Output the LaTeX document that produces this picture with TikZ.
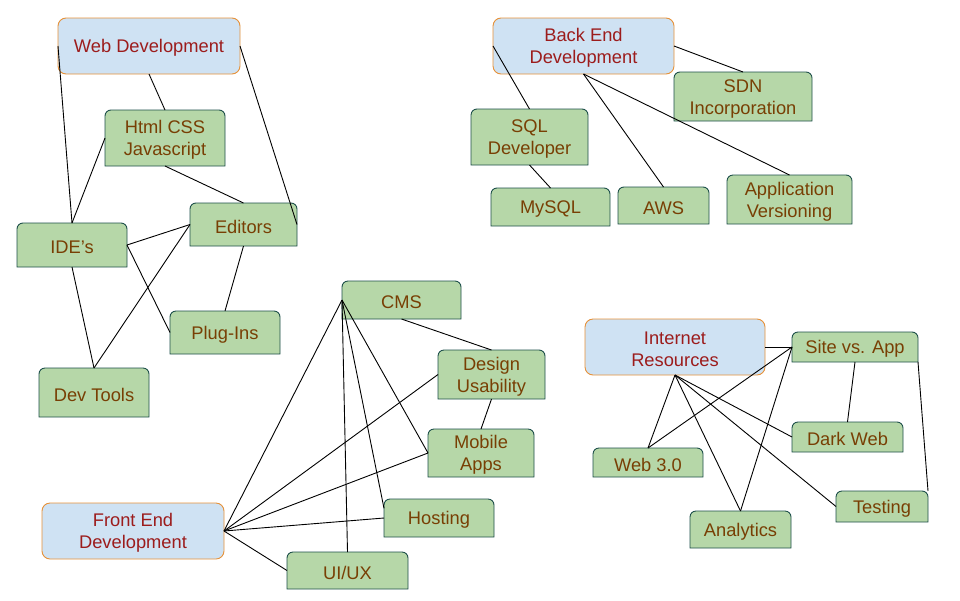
\documentclass[tikz,border=0pt]{standalone}
\usepackage{fontspec}
\setmainfont{Liberation Sans}
\usetikzlibrary{backgrounds}
\definecolor{bfill}{HTML}{CFE2F3}
\definecolor{bdraw}{HTML}{E69138}
\definecolor{btext}{HTML}{9C1C1C}
\definecolor{gfill}{HTML}{B6D7A8}
\definecolor{gdraw}{HTML}{1D4F4A}
\definecolor{gtext}{HTML}{783F04}
\tikzset{
  boxbase/.style={inner sep=0pt, outer sep=0pt},
  txt/.style={inner sep=0pt, outer sep=0pt, align=center, font=\fontsize{18.3}{22}\selectfont},
  gshape/.style={fill=gfill, draw=gdraw, line width=0.9pt},
  bbox/.style={boxbase, fill=bfill, draw=bdraw, line width=0.9pt, rounded corners=8pt},
  link/.style={draw=black, line width=0.9pt}
}
\newcommand\gn[6]{%
  \node[boxbase, minimum width=#4pt, minimum height=#5pt] (#1) at (#2,#3) {};
  \node[txt, text=gtext] (#1t) at ([yshift=-2.2pt]#1.center) {#6};
  \begin{pgfonlayer}{background}
  \draw[gshape] (#1.south west) -- ([yshift=-6pt]#1.north west)
    arc[start angle=180, end angle=90, radius=6pt]
    -- ([xshift=-6pt]#1.north east)
    arc[start angle=90, end angle=0, radius=6pt]
    -- (#1.south east) -- cycle;
  \end{pgfonlayer}}
\newcommand\bn[6]{%
  \node[bbox, minimum width=#4pt, minimum height=#5pt] (#1) at (#2,#3) {};
  \node[txt, text=btext] (#1t) at ([yshift=-2.2pt]#1.center) {#6};}
\begin{document}
\begin{tikzpicture}[x=1pt, y=-1pt]
\useasboundingbox (0,0) rectangle (960,600);
% Web development group
\bn{WD}{149}{46}{182}{56}{Web Development}
\gn{HTML}{165}{138}{120}{56}{Html CSS\\Javascript}
\gn{ED}{243.5}{224.5}{107}{43}{Editors}
\gn{IDE}{72}{245}{110}{44}{IDE’s}
\gn{PL}{225}{332.5}{110}{43}{Plug-Ins}
\gn{DT}{94}{392.5}{110}{49}{Dev Tools}
% Back end group
\bn{BE}{583.5}{46}{181}{56}{Back End\\Development}
\gn{SDN}{743}{96.5}{138}{49}{SDN\\Incorporation}
\gn{SQL}{529.5}{137}{117}{56}{SQL\\Developer}
\gn{MY}{550.5}{207}{119}{38}{MySQL}
\gn{AWS}{663.5}{205.5}{91}{37}{AWS}
\gn{AV}{789.5}{199.5}{125}{49}{Application\\Versioning}
% Front end group
\gn{CMS}{401.5}{300}{119}{38}{CMS}
\gn{DU}{491.5}{374.5}{107}{49}{Design\\Usability}
\gn{MA}{481}{453}{106}{48}{Mobile\\Apps}
\gn{HO}{439}{518}{110}{38}{Hosting}
\gn{UI}{347.5}{570.5}{121}{37}{UI/UX}
\bn{FE}{133}{531}{182}{56}{Front End\\Development}
% Internet group
\bn{IR}{675}{347}{180}{56}{Internet\\Resources}
\gn{SV}{855}{347}{126}{30}{Site vs. App}
\gn{DW}{847.5}{437}{111}{30}{Dark Web}
\gn{W3}{648}{462.5}{110}{29}{Web 3.0}
\gn{TE}{882}{506.5}{92}{31}{Testing}
\gn{AN}{740.5}{529.5}{101}{37}{Analytics}
% connectors
\draw[link] (WD.west) -- (IDE.north);
\draw[link] (WD.south) -- (HTML.north);
\draw[link] (WD.east) -- (ED.east);
\draw[link] (HTML.west) -- (IDE.north);
\draw[link] (HTML.south) -- (ED.north);
\draw[link] (IDE.east) -- (ED.west);
\draw[link] (IDE.east) -- (PL.west);
\draw[link] (IDE.south) -- (DT.north);
\draw[link] (DT.north) -- (ED.west);
\draw[link] (ED.south) -- (PL.north);
\draw[link] (BE.west) -- (SQL.north);
\draw[link] (BE.east) -- (SDN.north);
\draw[link] (BE.south) -- (AWS.north);
\draw[link] (BE.south) -- (AV.north);
\draw[link] (SQL.south) -- (MY.north);
\draw[link] (FE.east) -- (CMS.west);
\draw[link] (FE.east) -- (DU.west);
\draw[link] (FE.east) -- (MA.west);
\draw[link] (FE.east) -- (HO.west);
\draw[link] (FE.east) -- (UI.west);
\draw[link] (CMS.west) -- (MA.west);
\draw[link] (CMS.west) -- (HO.170);
\draw[link] (CMS.west) -- (UI.north);
\draw[link] (CMS.south) -- (DU.north);
\draw[link] (DU.south) -- (MA.north);
\draw[link] (IR.south) -- (W3.north);
\draw[link] (IR.south) -- (AN.north);
\draw[link] (IR.south) -- (DW.west);
\draw[link] (IR.south) -- (TE.west);
\draw[link] (IR.east) -- (SV.west);
\draw[link] (SV.west) -- (W3.north);
\draw[link] (SV.west) -- (AN.north);
\draw[link] (SV.south) -- (DW.north);
\draw[link] (SV.south east) -- (TE.north east);
\end{tikzpicture}
\end{document}
